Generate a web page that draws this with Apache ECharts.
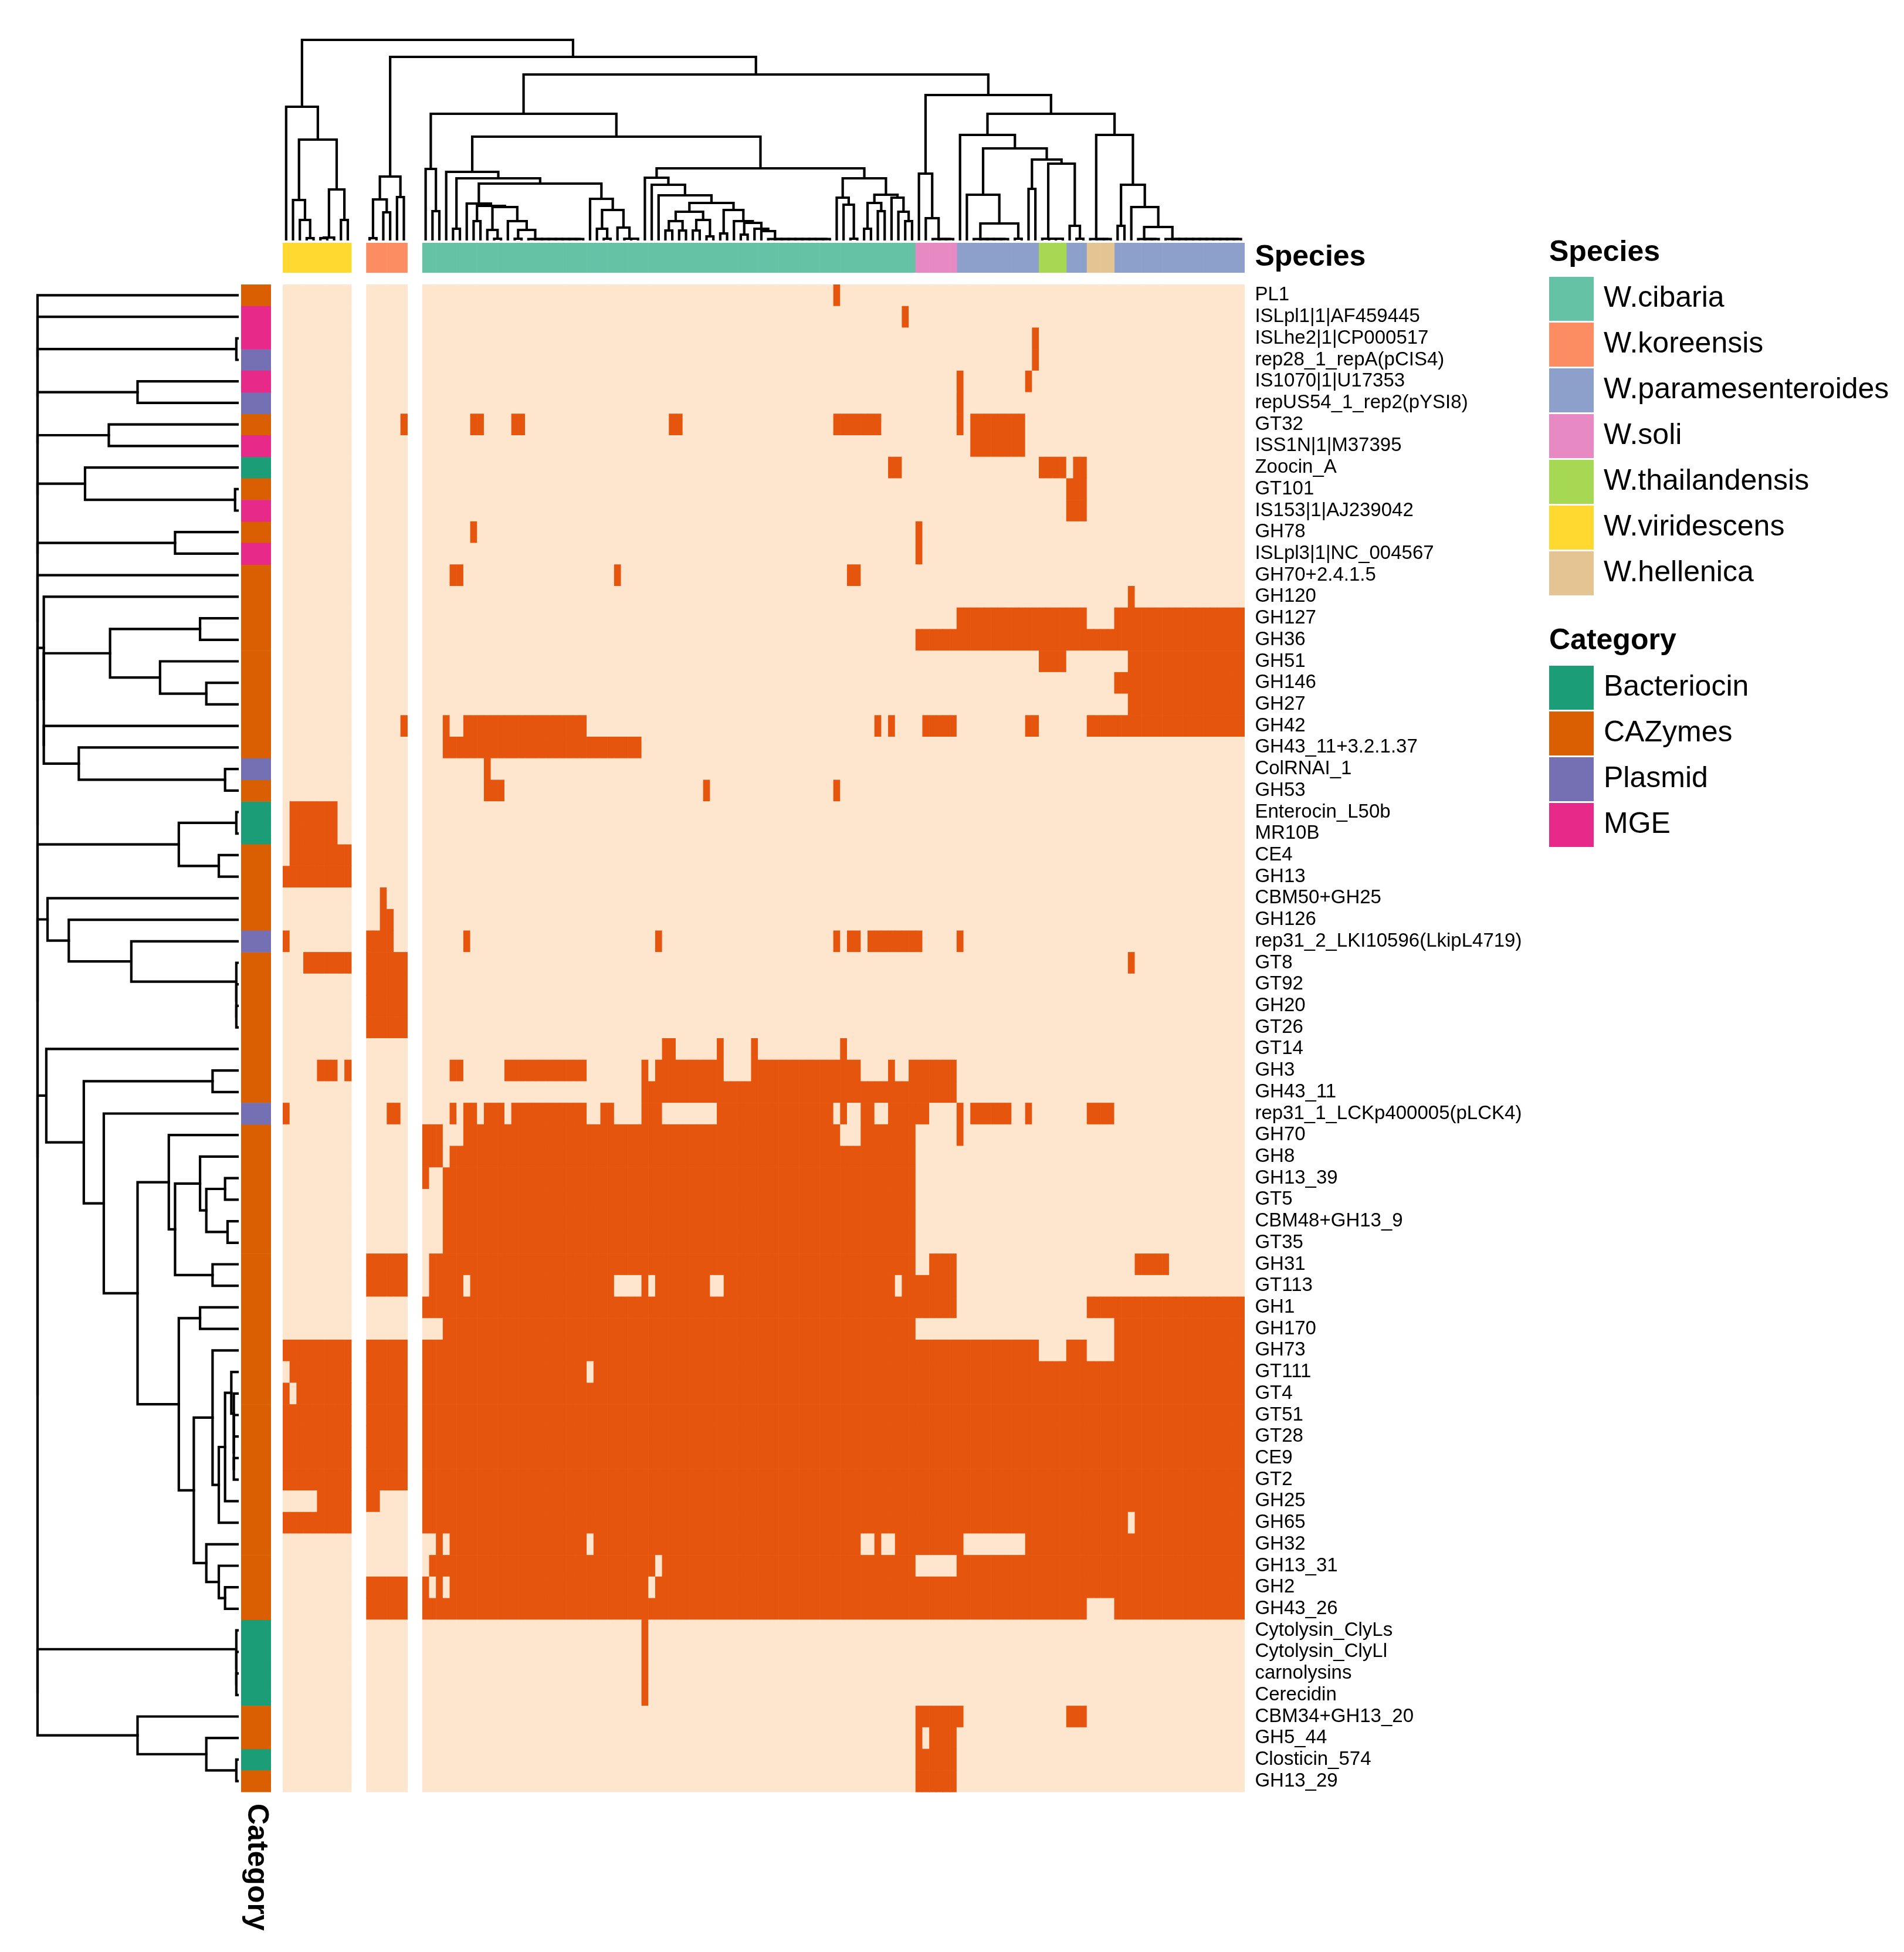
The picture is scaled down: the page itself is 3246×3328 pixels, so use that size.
<!DOCTYPE html>
<html><head><meta charset="utf-8">
<script src="https://cdn.jsdelivr.net/npm/echarts@6/dist/echarts.min.js"></script>
<style>html,body{margin:0;padding:0;background:#fff}#c{width:3246px;height:3328px}</style>
</head><body><div id="c"></div>
<script>
// ---------------- DATA ----------------
const rowNames = ['PL1','ISLpl1|1|AF459445','ISLhe2|1|CP000517','rep28_1_repA(pCIS4)','IS1070|1|U17353','repUS54_1_rep2(pYSI8)','GT32','ISS1N|1|M37395','Zoocin_A','GT101','IS153|1|AJ239042','GH78','ISLpl3|1|NC_004567','GH70+2.4.1.5','GH120','GH127','GH36','GH51','GH146','GH27','GH42','GH43_11+3.2.1.37','ColRNAI_1','GH53','Enterocin_L50b','MR10B','CE4','GH13','CBM50+GH25','GH126','rep31_2_LKI10596(LkipL4719)','GT8','GT92','GH20','GT26','GT14','GH3','GH43_11','rep31_1_LCKp400005(pLCK4)','GH70','GH8','GH13_39','GT5','CBM48+GH13_9','GT35','GH31','GT113','GH1','GH170','GH73','GT111','GT4','GT51','GT28','CE9','GT2','GH25','GH65','GH32','GH13_31','GH2','GH43_26','Cytolysin_ClyLs','Cytolysin_ClyLl','carnolysins','Cerecidin','CBM34+GH13_20','GH5_44','Closticin_574','GH13_29'];

// category of each row: B=Bacteriocin, C=CAZymes, P=Plasmid, M=MGE
const rowCategory = ['C','M','M','P','M','P','C','M','B','C','M','C','M','C',
  'C','C','C','C','C','C','C','C','P','C','B','B','C','C','C','C','P',
  'C','C','C','C','C','C','C','P',
  'C','C','C','C','C','C','C','C','C','C','C','C','C','C','C','C','C','C','C','C','C','C','C',
  'B','B','B','B','C','C','B','C'];
const categoryNames = { B: 'Bacteriocin', C: 'CAZymes', P: 'Plasmid', M: 'MGE' };

// species of the columns, left to right, as runs
const speciesRuns = [['W.viridescens',10],['W.koreensis',6],['W.cibaria',72],['W.soli',6],
  ['W.paramesenteroides',12],['W.thailandensis',4],['W.paramesenteroides',3],['W.hellenica',4],['W.paramesenteroides',19]];
// column slices (split groups)
const columnSlices = [10, 6, 120];

// columns (0-135) where the feature is present, per row
const presence = [
 '76','86','105','105','94,104','94',
 '15,23-24,29-30,52-53,76-82,94,96-103',
 '96-103',
 '84-85,106-109,111-112',
 '110-112','110-112',
 '23,88','88',
 '20-21,44,78-79',
 '119',
 '94-112,117-135',
 '88-135',
 '106-109,119-135',
 '117-135',
 '119-135',
 '15,19,22-39,82,84,89-93,104-105,113-135',
 '19-47',
 '25',
 '25-27,57,76',
 '1-7','1-7','1-9','0-9',
 '12','12-13',
 '0,10-13,22,50,76,78-79,81-88,94',
 '3-9,10-15,119',
 '10-15','10-15','10-15',
 '51-52,59,64,77',
 '5-7,9,20-21,28-39,48,50-59,64-79,84,87-93',
 '48-93',
 '0,13-14,20,22-23,25-27,29-39,42-43,48-50,59-75,77,80-81,84-89,94,96-101,104,113-116',
 '16-18,22-76,80-87,94',
 '16-18,20-87',
 '16,19-87',
 '19-87','19-87','19-87',
 '10-15,17-87,90-93,120-124',
 '10-15,17-21,23-43,48,50-57,60-84,86-93',
 '16-93,113-135',
 '19-87,117-135',
 '0-105,110-112,117-135',
 '1-39,41-135',
 '0,2-135',
 '0-135','0-135','0-135','0-135',
 '5-11,16-135',
 '0-9,16-118,120-135',
 '18,20-39,41-79,82,85-94,104-135',
 '17-49,51-87,94-135',
 '10-16,18,20-48,50-135',
 '10-112,117-135',
 '48','48','48','48',
 '88-94,110-112',
 '88,90-93',
 '88-93','88-93'
];

// dendrogram: merge height between each pair of neighbouring leaves
const colMergeHeights = [
 226,67,33,2,170,2,3,85,33,
 340,
 2,68,46,107,72,
 311,
 120,48,214,115,18,104,61,31,57,16,1,55,31,1,16,
 0.5,0.5,0.5,0.5,0.5,0.5,0.5,0.5,
 95,69,18,1,50,20,1,1,175,105,93,75,15,31,15,47,15,33,5,62,10,50,31,8,28,18,14,
 0.5,0.5,0.5,0.5,0.5,0.5,0.5,0.5,0.5,
 121,71,59,1,104,18,62,48,76,71,47,31,281,112,36,0.5,0.5,0.5,246,178,76,
 0.5,0.5,0.5,0.5,0.5,
 27,1,155,86,136,1,1,1,129,23,1,214,0.5,0.5,0.5,178,23,93,55,0.5,0.5,0.5,21,
 0.5,0.5,0.5,0.5,0.5,0.5,0.5,0.5,0.5,0.5,0.5
];
const rowMergeHeights = [160,160,1,160,80,160,103,160,122,2,160,50,160,160,155,30,102,62,25,155,155,127,10,160,1,47,15,160,152,135,85,1,1,1,160,153,20,123,107,55,30,10,25,8,50,20,80,30,47,20,5,3,3,3,3,10,15,35,25,15,10,160,1,1,1,160,80,25,1];

const speciesOrder = ['W.cibaria','W.koreensis','W.paramesenteroides','W.soli','W.thailandensis','W.viridescens','W.hellenica'];
const categoryOrder = ['Bacteriocin','CAZymes','Plasmid','MGE'];

// ---------------- STYLE / LAYOUT ----------------
const speciesColors = {'W.cibaria':'#66C2A5','W.koreensis':'#FC8D62','W.paramesenteroides':'#8DA0CB','W.soli':'#E78AC3','W.thailandensis':'#A6D854','W.viridescens':'#FFD92F','W.hellenica':'#E5C494'};
const categoryColors = {'Bacteriocin':'#1B9E77','CAZymes':'#D95F02','Plasmid':'#7570B3','MGE':'#E7298A'};
const ON = '#E6550D', OFF = '#FEE6CE';
const FONT = '"Liberation Sans", Arial, Helvetica, sans-serif';
const LY = { hmLeft: 482, hmTop: 485, unit: 11.68, hmH: 2570, annTop: 414, annH: 51,
  dendTop: 68, rowAnnLeft: 411, rowAnnW: 51, rowDendLeft: 64, rowDendW: 341, lw: 4.2,
  labelGap: 18, legendLeft: 2641 };
const GAP = 2.18;

// ---------------- BUILD ----------------
const nRows = rowNames.length;
const nCols = columnSlices.reduce((a, b) => a + b, 0);
const TOTAL = nCols + (columnSlices.length - 1) * GAP;
const hmW = TOTAL * LY.unit;
const sliceStart = []; { let a = 0; columnSlices.forEach(n => { sliceStart.push(a); a += n; }); }
function colLeft(c) { let s = 0; for (let i = 1; i < sliceStart.length; i++) if (c >= sliceStart[i]) s++; return c + s * GAP; }

function parseRanges(str) {
  const set = new Set();
  str.split(',').forEach(part => {
    const [a, b] = part.split('-').map(Number);
    const e = (b === undefined || isNaN(b)) ? a : b;
    for (let i = a; i <= e; i++) set.add(i);
  });
  return set;
}

const cellData = [];
presence.forEach((s, r) => {
  const set = parseRanges(s);
  for (let c = 0; c < nCols; c++) cellData.push([colLeft(c), r, set.has(c) ? 1 : 0]);
});

const colSpecies = [];
speciesRuns.forEach(([name, n]) => { for (let i = 0; i < n; i++) colSpecies.push(name); });

function buildTree(heights, pos) {
  const nodes = [];
  function rec(lo, hi) {
    if (lo === hi) return { p: pos[lo], h: 0 };
    let m = lo;
    for (let i = lo; i < hi; i++) if (heights[i] > heights[m]) m = i;
    const L = rec(lo, m), R = rec(m + 1, hi);
    const h = heights[m];
    nodes.push([L.p, L.h, R.p, R.h, h]);
    return { p: (L.p + R.p) / 2, h };
  }
  rec(0, heights.length);
  return nodes;
}
const colPos = []; for (let c = 0; c < nCols; c++) colPos.push(colLeft(c) + 0.5);
const rowPos = []; for (let r = 0; r < nRows; r++) rowPos.push(r + 0.5);
const colTree = buildTree(colMergeHeights, colPos);
const rowTree = buildTree(rowMergeHeights, rowPos);
const colMax = Math.max(...colMergeHeights), rowMax = Math.max(...rowMergeHeights);

const lineStyle = { stroke: '#000', lineWidth: LY.lw, fill: null, lineJoin: 'miter', lineCap: 'square' };

const series = [];
series.push({
  type: 'custom', name: 'heatmap', xAxisIndex: 0, yAxisIndex: 0, data: cellData, clip: false,
  renderItem: (params, api) => {
    const p = api.coord([api.value(0), api.value(1)]);
    const s = api.size([1, 1]);
    return { type: 'rect', shape: { x: p[0], y: p[1] - s[1] / 2, width: s[0] + 0.6, height: s[1] + 0.6 },
      style: { fill: api.value(2) ? ON : OFF } };
  }
});
speciesOrder.forEach(sp => {
  const d = [];
  colSpecies.forEach((name, c) => { if (name === sp) d.push([colLeft(c), 0]); });
  series.push({
    type: 'custom', name: sp, xAxisIndex: 1, yAxisIndex: 1, data: d, clip: false,
    itemStyle: { color: speciesColors[sp] },
    renderItem: (params, api) => {
      const p = api.coord([api.value(0), 0]);
      const s = api.size([1, 1]);
      return { type: 'rect', shape: { x: p[0], y: p[1] - s[1] / 2, width: s[0] + 0.6, height: s[1] },
        style: { fill: speciesColors[sp] } };
    }
  });
});
series.push({
  type: 'custom', name: 'colDendrogram', xAxisIndex: 2, yAxisIndex: 2, data: colTree, clip: false,
  renderItem: (params, api) => {
    const a = api.coord([api.value(0), api.value(1)]);
    const b = api.coord([api.value(0), api.value(4)]);
    const c = api.coord([api.value(2), api.value(4)]);
    const d = api.coord([api.value(2), api.value(3)]);
    return { type: 'polyline', shape: { points: [a, b, c, d] }, style: lineStyle };
  }
});
categoryOrder.forEach(cat => {
  const d = [];
  rowCategory.forEach((code, r) => { if (categoryNames[code] === cat) d.push([0, r]); });
  series.push({
    type: 'custom', name: cat, xAxisIndex: 3, yAxisIndex: 3, data: d, clip: false,
    itemStyle: { color: categoryColors[cat] },
    renderItem: (params, api) => {
      const r = api.value(1);
      const p0 = api.coord([0, r]), p1 = api.coord([0, r + 1]);
      const s = api.size([1, 1]);
      return { type: 'rect', shape: { x: p0[0] - s[0] / 2, y: p0[1], width: s[0], height: p1[1] - p0[1] + 0.6 },
        style: { fill: categoryColors[cat] } };
    }
  });
});
series.push({
  type: 'custom', name: 'rowDendrogram', xAxisIndex: 4, yAxisIndex: 4, data: rowTree, clip: false,
  renderItem: (params, api) => {
    const a = api.coord([api.value(1), api.value(0)]);
    const b = api.coord([api.value(4), api.value(0)]);
    const c = api.coord([api.value(4), api.value(2)]);
    const d = api.coord([api.value(3), api.value(2)]);
    return { type: 'polyline', shape: { points: [a, b, c, d] }, style: lineStyle };
  }
});

const hidden = { show: false };
const option = {
  animation: false,
  backgroundColor: '#ffffff',
  textStyle: { fontFamily: FONT, color: '#000' },
  grid: [
    { left: LY.hmLeft, top: LY.hmTop, width: hmW, height: LY.hmH },
    { left: LY.hmLeft, top: LY.annTop, width: hmW, height: LY.annH },
    { left: LY.hmLeft, top: LY.dendTop, width: hmW, height: colMax },
    { left: LY.rowAnnLeft, top: LY.hmTop, width: LY.rowAnnW, height: LY.hmH },
    { left: LY.rowDendLeft, top: LY.hmTop, width: LY.rowDendW, height: LY.hmH }
  ],
  xAxis: [
    { type: 'value', gridIndex: 0, min: 0, max: TOTAL, ...hidden },
    { type: 'value', gridIndex: 1, min: 0, max: TOTAL, ...hidden },
    { type: 'value', gridIndex: 2, min: 0, max: TOTAL, ...hidden },
    { type: 'category', gridIndex: 3, data: ['Category'], position: 'bottom',
      axisLine: { show: false }, axisTick: { show: false }, splitLine: { show: false },
      axisLabel: { rotate: -90, margin: 20, fontSize: 50, fontWeight: 'bold', color: '#000', fontFamily: FONT } },
    { type: 'value', gridIndex: 4, min: 0, max: rowMax, inverse: true, ...hidden }
  ],
  yAxis: [
    { type: 'category', gridIndex: 0, data: rowNames, inverse: true, position: 'right',
      axisLine: { show: false }, axisTick: { show: false }, splitLine: { show: false },
      axisLabel: { interval: 0, fontSize: 33, margin: LY.labelGap, color: '#000', fontFamily: FONT } },
    { type: 'category', gridIndex: 1, data: ['Species'], position: 'right',
      axisLine: { show: false }, axisTick: { show: false }, splitLine: { show: false },
      axisLabel: { fontSize: 50, fontWeight: 'bold', margin: LY.labelGap, color: '#000', fontFamily: FONT } },
    { type: 'value', gridIndex: 2, min: 0, max: colMax, ...hidden },
    { type: 'value', gridIndex: 3, min: 0, max: nRows, inverse: true, ...hidden },
    { type: 'value', gridIndex: 4, min: 0, max: nRows, inverse: true, ...hidden }
  ],
  title: [
    { text: 'Species', left: LY.legendLeft, top: 406, padding: 0, textStyle: { fontSize: 50, fontWeight: 'bold', color: '#000', fontFamily: FONT } },
    { text: 'Category', left: LY.legendLeft, top: 1068, padding: 0, textStyle: { fontSize: 50, fontWeight: 'bold', color: '#000', fontFamily: FONT } }
  ],
  legend: [
    { data: speciesOrder, orient: 'vertical', left: LY.legendLeft, top: 472, padding: 0, itemWidth: 76, itemHeight: 75, itemGap: 3,
      icon: 'rect', selectedMode: false, textStyle: { fontSize: 50, color: '#000', fontFamily: FONT, padding: [0, 0, 0, 12] } },
    { data: categoryOrder, orient: 'vertical', left: LY.legendLeft, top: 1135, padding: 0, itemWidth: 76, itemHeight: 75, itemGap: 3,
      icon: 'rect', selectedMode: false, textStyle: { fontSize: 50, color: '#000', fontFamily: FONT, padding: [0, 0, 0, 12] } }
  ],
  series
};
const chart = echarts.init(document.getElementById('c'), null, { renderer: 'canvas' });
chart.setOption(option);
</script>
</body></html>
